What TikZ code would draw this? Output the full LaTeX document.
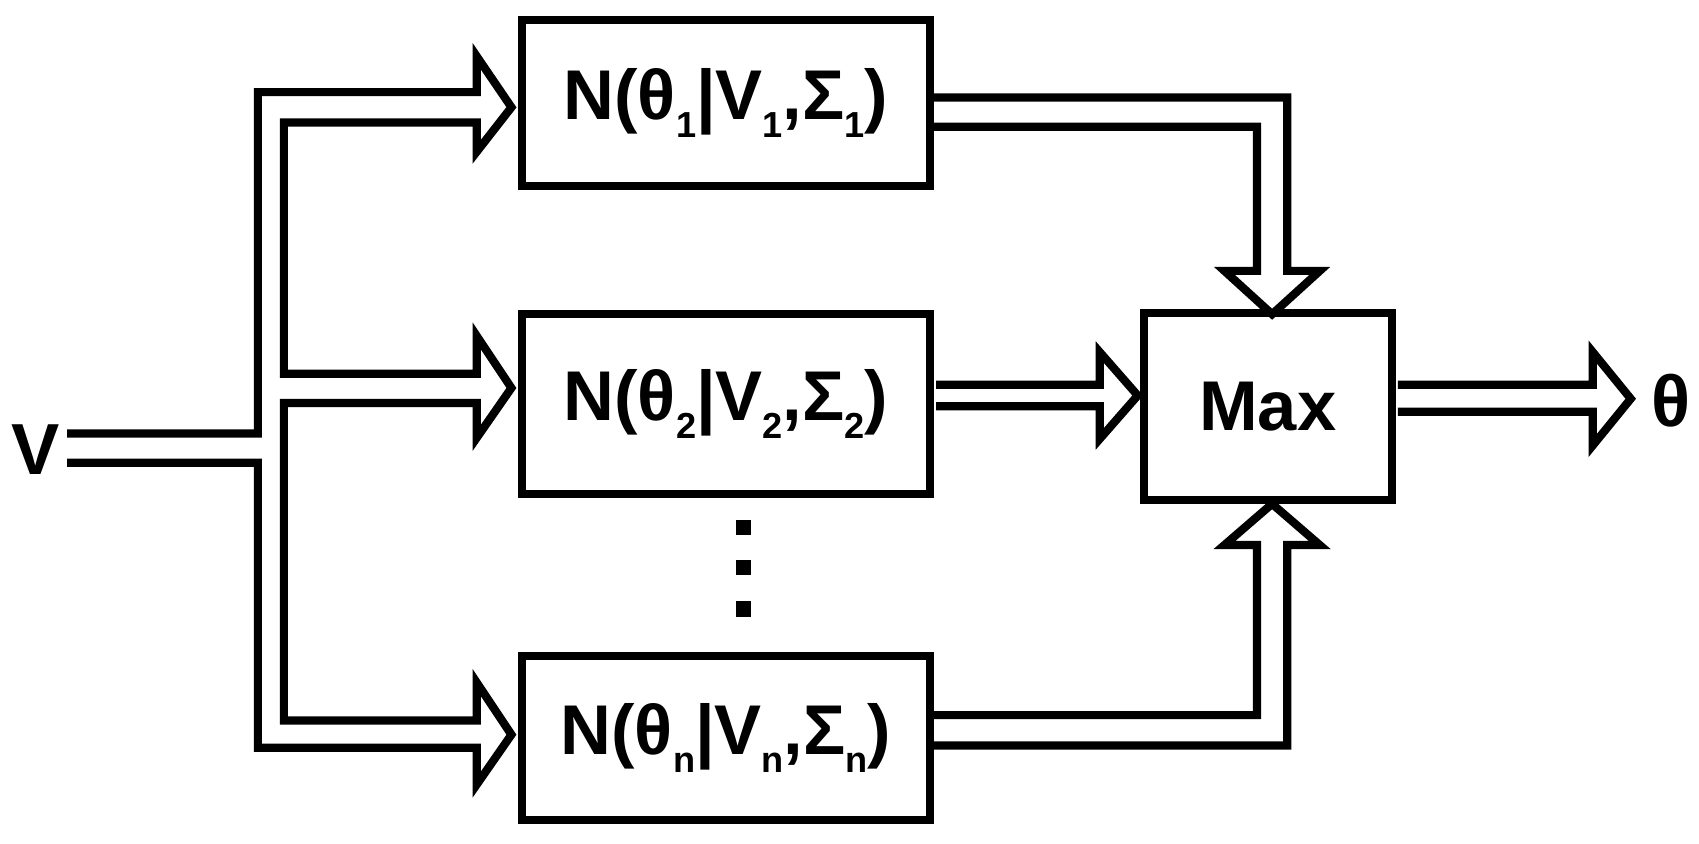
\documentclass[tikz,border=0pt]{standalone}
\usepackage{fontspec}
\setmainfont{Liberation Sans}
\newcommand{\sbs}[1]{\raisebox{-0.25em}{\fontsize{19}{19}\selectfont #1}}
\begin{document}
\begin{tikzpicture}[x=0.02cm,y=-0.02cm,
  ln/.style={line width=4.3pt,line join=miter},
  box/.style={draw,line width=4.3pt,minimum width=384*0.02cm-4pt,inner sep=0pt,font=\fontsize{37}{37}\bfseries\selectfont},
  lab/.style={font=\fontsize{38}{38}\bfseries\selectfont,inner sep=0pt}]
\useasboundingbox (0,0) rectangle (1568,778);
\node[box,minimum height=160*0.02cm-4pt] (b1) at (670,95) {N(θ\sbs{1}|V\sbs{1},Σ\sbs{1})};
\node[box,minimum height=173*0.02cm-4pt] (b2) at (670,373) {N(θ\sbs{2}|V\sbs{2},Σ\sbs{2})};
\node[box,minimum height=158*0.02cm-4pt] (bn) at (670,681) {N(θ\sbs{n}|V\sbs{n},Σ\sbs{n})};
\node[box,minimum width=236*0.02cm-4pt,minimum height=180*0.02cm-4pt] (mx) at (1170,375) {Max};
\node[lab] (v) at (33,415) {V};
\node[lab] (t) at (1542,370) {θ};
% input fan
\draw[ln] (62,400)--(238,400)--(238,85)--(440,85)--(440,52)--(472,99)--(440,140)--(440,113)--(262,113)--(262,345)--(440,345)--(440,310)--(472,358)--(440,404)--(440,372)--(262,372)--(262,665)--(440,665)--(440,630)--(472,678)--(440,724)--(440,690)--(238,690)--(238,427)--(62,427);
% outputs
\draw[ln] (862,90)--(1188,90)--(1188,250)--(1218,250)--(1174,290)--(1130,250)--(1160,250)--(1160,117)--(862,117);
\draw[ln] (864,355)--(1015,355)--(1015,325)--(1050,365)--(1015,405)--(1015,375)--(864,375);
\draw[ln] (862,660)--(1160,660)--(1160,503)--(1130,503)--(1174,465)--(1218,503)--(1188,503)--(1188,688)--(862,688);
\draw[ln] (1290,355)--(1470,355)--(1470,325)--(1505,368)--(1470,411)--(1470,380)--(1290,380);
\foreach \yy in {487,524,562} \fill (679,\yy-7) rectangle (693,\yy+7);
\end{tikzpicture}
\end{document}
